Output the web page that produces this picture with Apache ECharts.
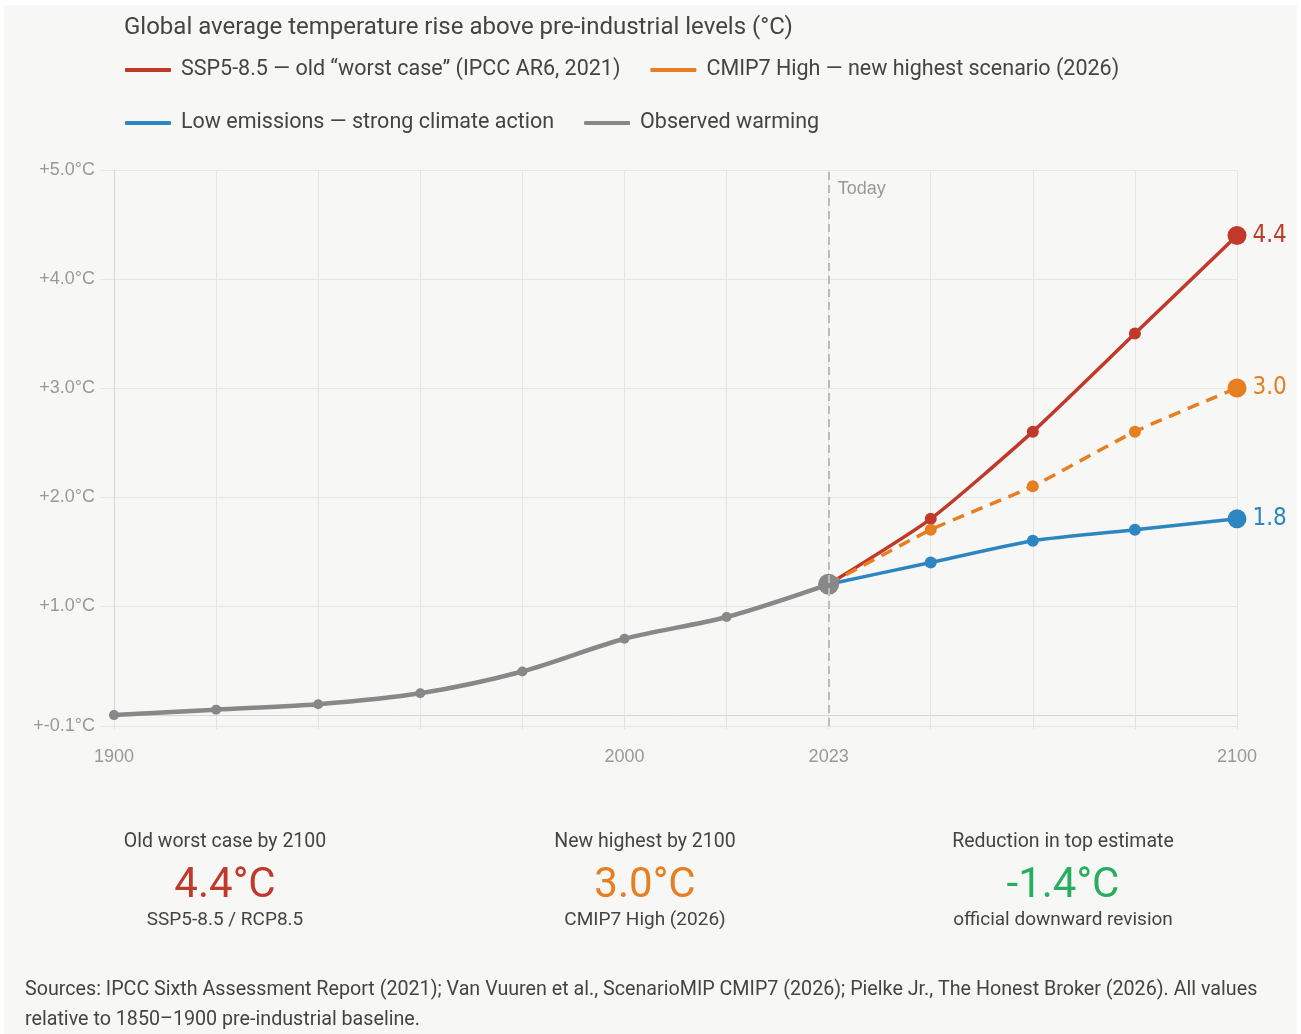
<!DOCTYPE html>
<html>
<head>
<meta charset="utf-8">
<script src="https://cdn.jsdelivr.net/npm/echarts@6/dist/echarts.min.js"></script>
<style>
  body { margin: 0; background: #fff; }
  #panel { position: absolute; left: 4px; top: 5px; width: 1293px; height: 1029px; background: #f7f7f5; }
  #chart { position: absolute; left: 0; top: 0; width: 1301px; height: 1034px; }
</style>
</head>
<body>
<div id="panel"></div>
<div id="chart"></div>
<script>
// data
var years = ['1900', '1920', '1940', '1960', '1980', '2000', '2010', '2023', '2040', '2060', '2080', '2100'];
var observed = [0.0, 0.05, 0.1, 0.2, 0.4, 0.7, 0.9, 1.2, '-', '-', '-', '-'];
var ssp585 = ['-', '-', '-', '-', '-', '-', '-', 1.2, 1.8, 2.6, 3.5, 4.4];
var cmip7High = ['-', '-', '-', '-', '-', '-', '-', 1.2, 1.7, 2.1, 2.6, 3.0];
var lowEmissions = ['-', '-', '-', '-', '-', '-', '-', 1.2, 1.4, 1.6, 1.7, 1.8];
var yTicks = [-0.1, 1, 2, 3, 4, 5];
var shownYears = ['1900', '2000', '2023', '2100'];

var names = {
  red: 'SSP5-8.5 \u2014 old \u201cworst case\u201d (IPCC AR6, 2021)',
  orange: 'CMIP7 High \u2014 new highest scenario (2026)',
  blue: 'Low emissions \u2014 strong climate action',
  gray: 'Observed warming'
};

var font = 'Roboto, "Liberation Sans", sans-serif';
var last = years.length - 1;
var today = years.indexOf('2023');

var scenario = function(name, data, color, dashed){
  return {
    name: name,
    type: 'line',
    data: data,
    smooth: 0.2,
    z: 3,
    symbol: 'circle',
    symbolSize: function(v, p){
      if (p.dataIndex === last) return 19;
      if (p.dataIndex === today) return 0;
      return 12;
    },
    itemStyle: { color: color },
    lineStyle: { color: color, width: 3.5, type: dashed ? [12, 8] : 'solid' },
    label: {
      show: true,
      position: 'right',
      distance: 6,
      color: color,
      fontSize: 24,
      fontFamily: '"Liberation Sans Narrow", "DejaVu Sans Condensed", sans-serif',
      formatter: function(p){ return p.dataIndex === last ? p.value.toFixed(1) : ''; }
    }
  };
};

var stat = function(x, head, value, color, foot){
  return [
    { type: 'text', x: x, y: 842, style: { text: head, fill: '#444', font: '19.5px ' + font, align: 'center', verticalAlign: 'middle' } },
    { type: 'text', x: x, y: 886, style: { text: value, fill: color, font: '42px ' + font, align: 'center', verticalAlign: 'middle' } },
    { type: 'text', x: x, y: 920, style: { text: foot, fill: '#444', font: '19px ' + font, align: 'center', verticalAlign: 'middle' } }
  ];
};

var dom = document.getElementById('chart');
var myChart = echarts.init(dom);
var option = {
  backgroundColor: 'transparent',
  animation: false,
  title: {
    text: 'Global average temperature rise above pre-industrial levels (\u00b0C)',
    left: 119,
    top: 11,
    textStyle: { color: '#444', fontSize: 24, fontWeight: 'normal', fontFamily: font }
  },
  legend: [
    {
      data: [names.red, names.orange],
      left: 120, top: 54,
      icon: 'roundRect', itemWidth: 46, itemHeight: 4, itemGap: 30,
      textStyle: { color: '#444', fontSize: 21.5, fontFamily: font, padding: [0, 0, 0, 5] }
    },
    {
      data: [names.blue, names.gray],
      left: 120, top: 107,
      icon: 'roundRect', itemWidth: 46, itemHeight: 4, itemGap: 30,
      textStyle: { color: '#444', fontSize: 21.5, fontFamily: font, padding: [0, 0, 0, 5] }
    }
  ],
  grid: { left: 114, right: 64, top: 170, bottom: 308 },
  xAxis: {
    type: 'category',
    data: years,
    boundaryGap: false,
    axisLine: { lineStyle: { color: '#d6d6d6', width: 1 } },
    axisTick: { show: true, interval: 0, length: 14, lineStyle: { color: '#e2e2e2' } },
    splitLine: { show: true, interval: 0, lineStyle: { color: '#e6e6e6' } },
    axisLabel: {
      interval: function(i, v){ return shownYears.indexOf(v) >= 0; },
      color: '#999', fontSize: 18, margin: 22, fontFamily: '"Liberation Sans", sans-serif'
    }
  },
  yAxis: {
    type: 'value',
    min: -0.1,
    max: 5,
    axisLine: { show: true, lineStyle: { color: '#d6d6d6' } },
    axisTick: { show: true, length: 14, customValues: yTicks, lineStyle: { color: '#e6e6e6' } },
    splitLine: { show: true, lineStyle: { color: '#e6e6e6' } },
    axisLabel: {
      customValues: yTicks,
      color: '#999', fontSize: 18, margin: 19, fontFamily: '"Liberation Sans", sans-serif',
      formatter: function(v){ return '+' + v.toFixed(1) + '\u00b0C'; }
    }
  },
  series: [
    scenario(names.red, ssp585, '#c0392b', false),
    scenario(names.orange, cmip7High, '#e67e22', true),
    scenario(names.blue, lowEmissions, '#2e86c1', false),
    {
      name: names.gray,
      type: 'line',
      data: observed,
      smooth: 0.3,
      z: 4,
      symbol: 'circle',
      symbolSize: function(v, p){ return p.dataIndex === today ? 21 : 10; },
      itemStyle: { color: '#888' },
      lineStyle: { color: '#888', width: 4.5 },
      markLine: {
        silent: true,
        symbol: 'none',
        lineStyle: { color: '#bbb', type: [8, 5], width: 2 },
        label: { show: false },
        data: [{ xAxis: '2023' }]
      },
      markPoint: {
        symbol: 'circle',
        symbolSize: 0,
        label: {
          show: true, position: 'right', offset: [4, 19],
          color: '#999', fontSize: 18, fontFamily: '"Liberation Sans", sans-serif',
          formatter: 'Today'
        },
        data: [{ coord: ['2023', 5] }]
      }
    }
  ],
  graphic: [].concat(
    stat(225, 'Old worst case by 2100', '4.4\u00b0C', '#c0392b', 'SSP5-8.5 / RCP8.5'),
    stat(645, 'New highest by 2100', '3.0\u00b0C', '#e67e22', 'CMIP7 High (2026)'),
    stat(1063, 'Reduction in top estimate', '-1.4\u00b0C', '#27ae60', 'official downward revision'),
    [
      { type: 'text', x: 25, y: 990, style: { text: 'Sources: IPCC Sixth Assessment Report (2021); Van Vuuren et al., ScenarioMIP CMIP7 (2026); Pielke Jr., The Honest Broker (2026). All values', fill: '#444', font: '19.7px ' + font, verticalAlign: 'middle' } },
      { type: 'text', x: 25, y: 1020, style: { text: 'relative to 1850\u20131900 pre-industrial baseline.', fill: '#444', font: '19.7px ' + font, verticalAlign: 'middle' } }
    ]
  )
};

if (option && typeof option === "object") {
  myChart.setOption(option, true);
}
</script>
</body>
</html>
